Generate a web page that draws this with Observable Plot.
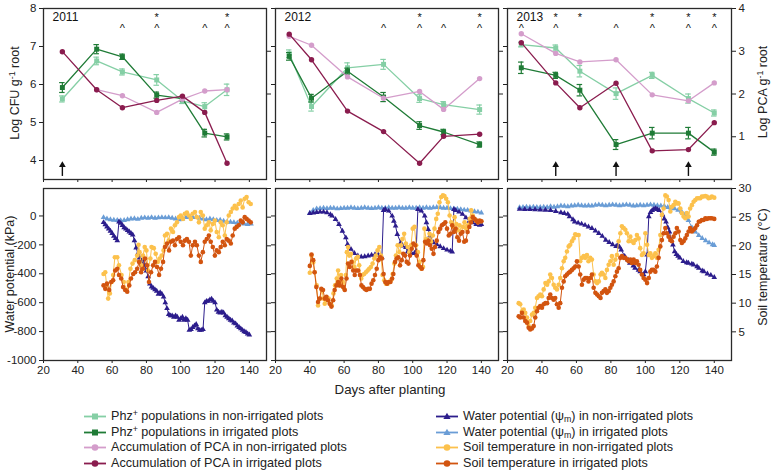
<!DOCTYPE html>
<html><head><meta charset="utf-8">
<script src="https://cdn.jsdelivr.net/npm/d3@7"></script>
<script src="https://cdn.jsdelivr.net/npm/@observablehq/plot@0.6"></script>
<style>
body{margin:0;background:#fff;font-family:"Liberation Sans",Arial,Helvetica,sans-serif;color:#222;}
#root{position:relative;width:773px;height:472px;overflow:hidden;background:#fff;}
.vt{position:absolute;transform:translate(-50%,-50%) rotate(-90deg);white-space:nowrap;font-size:12.5px;color:#222;}
.ht{position:absolute;transform:translate(-50%,-50%);white-space:nowrap;font-size:13.3px;color:#222;}
.lg{position:absolute;height:16px;display:flex;align-items:center;font-size:12.6px;color:#222;white-space:nowrap;transform:translateY(-50%);}
.lg svg{margin-right:5px;}
sup{font-size:70%;vertical-align:0.45em;line-height:0;}
sub{font-size:70%;vertical-align:-0.25em;line-height:0;}
</style></head><body><div id="root"></div>
<script>
// ---------- Top row: Phz+ populations (Log CFU) and PCA (Log PCA) ----------
const days2011 = [31, 51, 66, 86, 101, 114, 127];
const phzNon2011 = [5.62, 6.62, 6.33, 6.12, 5.57, 5.42, 5.86];
const phzNonErr2011 = [0.08, 0.1, 0.08, 0.14, 0.07, 0.1, 0.15];
const phzIrr2011 = [5.92, 6.93, 6.73, 5.72, 5.63, 4.72, 4.62];
const phzIrrErr2011 = [0.13, 0.12, 0.07, 0.08, 0.06, 0.1, 0.08];
const pcaNon2011 = [null, 2.10, 1.96, 1.57, 1.88, 2.07, 2.10];
const pcaIrr2011 = [2.99, 2.10, 1.68, 1.85, 1.95, 1.57, 0.38];
const carets2011 = [66, 86, 114, 127];
const stars2011 = [86, 127];
const arrows2011 = [31];

const days2012 = [28, 41, 62, 83, 104, 118, 139];
const phzNon2012 = [6.81, 5.42, 6.44, 6.53, 5.63, 5.47, 5.34];
const phzNonErr2012 = [0.1, 0.12, 0.13, 0.13, 0.1, 0.08, 0.12];
const phzIrr2012 = [6.74, 5.64, 6.35, 5.67, 4.92, 4.75, 4.42];
const phzIrrErr2012 = [0.1, 0.1, 0.08, 0.12, 0.1, 0.07, 0.07];
const pcaNon2012 = [3.35, 3.14, 2.40, 1.90, 2.06, 1.64, 2.36];
const pcaIrr2012 = [3.40, 2.80, 1.60, 1.12, 0.38, 1.01, 1.06];
const carets2012 = [83, 104, 118, 139];
const stars2012 = [104, 139];
const arrows2012 = [];

const days2013 = [28, 48, 62, 83, 104, 125, 140];
const phzNon2013 = [7.05, 6.96, 6.35, 5.76, 6.24, 5.63, 5.25];
const phzNonErr2013 = [0.06, 0.08, 0.15, 0.15, 0.08, 0.12, 0.08];
const phzIrr2013 = [6.44, 6.24, 5.85, 4.42, 4.72, 4.72, 4.22];
const phzIrrErr2013 = [0.15, 0.08, 0.15, 0.13, 0.15, 0.15, 0.08];
const pcaNon2013 = [3.41, 2.95, 2.75, 2.80, 1.98, 1.84, 2.26];
const pcaIrr2013 = [3.20, 2.26, 1.68, 2.25, 0.67, 0.70, 1.33];
const carets2013 = [28, 48, 83, 104, 125, 140];
const stars2013 = [48, 62, 104, 125, 140];
const arrows2013 = [48, 83, 125];

// ---------- Bottom row: water potential (kPa) and soil temperature (°C), [day, value] ----------
const wpNon2011 = [[55,-45],[56,-60],[57,-75],[58,-90],[59,-105],[60,-120],[61,-140],[62,-155],[63,-170],[64,-40],[65,-50],[66,-65],[67,-80],[68,-90],[69,-100],[70,-110],[71,-120],[72,-130],[73,-170],[74,-220],[75,-260],[76,-290],[77,-320],[78,-300],[79,-340],[80,-380],[81,-420],[82,-470],[83,-490],[84,-500],[85,-510],[86,-520],[87,-540],[88,-530],[89,-540],[90,-560],[91,-600],[92,-640],[93,-680],[94,-690],[95,-690],[96,-700],[97,-690],[98,-700],[99,-720],[100,-710],[101,-700],[102,-720],[103,-710],[104,-720],[105,-790],[106,-785],[107,-770],[108,-760],[109,-750],[110,-780],[111,-790],[112,-790],[113,-785],[114,-600],[115,-590],[116,-590],[117,-580],[118,-575],[119,-590],[120,-600],[121,-650],[122,-665],[123,-670],[124,-665],[125,-670],[126,-690],[127,-700],[128,-710],[129,-720],[130,-725],[131,-740],[132,-745],[133,-760],[134,-770],[135,-780],[136,-790],[137,-800],[138,-805],[139,-815],[140,-822]];
const wpIrr2011 = [[55,-10],[57,-20],[59,-25],[61,-28],[63,-30],[65,-32],[67,-30],[69,-25],[71,-20],[73,-18],[75,-22],[77,-15],[79,-12],[81,-15],[83,-10],[85,-15],[87,-12],[89,-10],[91,-12],[93,-10],[95,-15],[97,-20],[99,-25],[101,-20],[103,-10],[105,-8],[107,-10],[109,-8],[111,-15],[113,-20],[115,-25],[117,-20],[119,-25],[121,-30],[123,-28],[125,-35],[127,-40],[129,-42],[131,-45],[133,-48],[135,-50],[137,-55],[139,-58],[141,-55]];
const tNon2011 = [[55,15.1],[56,15.4],[56.8,13.1],[57.7,10.8],[58.7,11.7],[59.7,13.7],[60.6,14.9],[61.6,18.0],[63,18.0],[64,16.6],[65.5,14.9],[66.8,13.7],[68.4,12.3],[69.5,13.7],[70.7,16.0],[71.9,16.9],[73.2,17.5],[74.6,18.3],[75.4,20.2],[76,18.9],[77,16.6],[78,18.3],[79,19.8],[80,19.2],[81,15.7],[82.3,17.8],[83,19.8],[84.3,19.6],[85.4,18.6],[86.6,17.2],[87.7,17.8],[88.9,18.3],[90,19.2],[90.8,21.8],[92,22.1],[93,20.9],[94.3,23.0],[95.5,22.4],[96.6,23.6],[97.8,24.1],[99,25.0],[100,25.3],[101.3,24.7],[102.4,25.6],[103.6,25.8],[104.8,25.3],[105.9,24.7],[107,25.6],[108.3,25.9],[109.4,25.0],[110.6,24.1],[111.7,25.9],[112.9,25.3],[114,23.0],[115.2,23.6],[116.4,24.1],[117.5,22.7],[118.7,23.8],[119.9,24.4],[121,22.4],[122.2,21.5],[123.3,24.1],[124.5,23.6],[125.7,21.8],[126.8,24.1],[128,25.3],[129.2,25.9],[130.3,26.5],[131.5,27.0],[132.6,26.5],[133.8,27.3],[135,27.9],[136.1,26.7],[137.3,28.2],[138.4,28.5],[139.6,27.6],[140.8,27.3]];
const tIrr2011 = [[55,13.1],[56,12.5],[57,13.4],[58.3,12.3],[59.5,13.7],[60.6,14.0],[61.8,15.7],[63,16.0],[64,14.9],[65.3,14.3],[66.4,12.8],[67.6,12.3],[68.8,12.0],[70,13.1],[71,14.3],[72.3,15.1],[73.4,15.4],[74.6,16.0],[75.7,17.2],[76.9,15.4],[78,16.0],[79.2,17.8],[80.4,16.6],[81.5,13.7],[82.7,15.4],[83.9,16.6],[85,17.2],[86.2,16.3],[87.4,14.9],[88.5,16.0],[89.7,17.2],[90.8,19.8],[92,20.4],[93.2,19.2],[94.3,20.7],[95.5,20.9],[96.6,20.1],[97.8,21.2],[99,21.5],[100,20.7],[101.3,20.1],[102.4,20.9],[103.6,21.2],[104.8,20.7],[105.9,18.3],[107,20.1],[108.3,20.7],[109.4,20.1],[110.6,18.3],[111.7,17.2],[112.9,18.9],[114,20.7],[115.2,21.2],[116.4,21.8],[117.5,20.7],[118.7,19.8],[119.9,18.3],[121,19.2],[122.2,18.9],[123.3,19.8],[124.5,20.7],[125.7,20.1],[126.8,21.2],[128,20.9],[129.2,20.4],[130.3,21.8],[131.5,23.0],[132.6,23.3],[133.8,23.6],[135,24.4],[136.1,24.1],[137.3,25.0],[138.4,24.7],[139.6,24.4],[140.8,24.1]];

const wpNon2012 = [[40,18],[42,22],[44,25],[46,28],[48,28],[50,23],[52,10],[53,0],[55,-23],[57,-58],[59,-104],[61,-150],[62,-196],[64,-230],[66,-258],[68,-276],[70,-283],[72,-281],[74,-276],[76,-271],[78,-267],[80,-269],[82,-288],[83,39],[84,46],[86,35],[88,0],[89,-35],[90,-69],[91,-127],[93,-184],[94,-207],[96,-218],[97,-248],[99,-253],[101,-258],[102,-242],[103,46],[105,35],[107,0],[108,-46],[109,-92],[110,-138],[112,-184],[114,-196],[116,-212],[118,-225],[120,-235],[122,-242],[123,-248],[124,46],[125,39],[127,28],[129,12],[131,-12],[133,-35],[135,-46],[137,-58],[139,-64],[140,-58]];
const wpIrr2012 = [[40,20],[42,40],[44,50],[46,52],[48,55],[50,52],[52,55],[54,55],[56,50],[58,52],[60,55],[62,55],[64,58],[66,55],[68,52],[70,55],[72,58],[74,55],[76,52],[78,55],[80,58],[82,55],[84,55],[86,58],[88,55],[90,55],[92,58],[94,55],[96,55],[98,58],[100,55],[102,55],[104,58],[106,55],[108,58],[110,55],[112,58],[114,60],[116,58],[118,55],[120,55],[122,52],[124,50],[126,48],[128,45],[130,42],[132,40],[134,35],[136,30],[138,28],[140,22]];
const tNon2012 = [[40,15.3],[41,18.3],[42,17.1],[42.8,15.4],[44,13.1],[44.8,9.6],[46,10.8],[47,12.3],[48,10.8],[48.7,9.9],[49.7,10.5],[51,10.8],[51.8,9.9],[52.8,9.6],[53.8,11.7],[54.7,13.1],[55.7,14.3],[56.5,15.7],[57.3,13.1],[58.2,14.9],[59.2,13.7],[60,12.5],[61,14.9],[61.6,18.9],[62.3,19.8],[63,18.3],[64,18.6],[65,17.2],[66,16.3],[67,17.8],[68,18.1],[68.8,16.6],[70,14.3],[70.7,14.9],[71.7,15.1],[72.7,15.4],[73.7,15.7],[74.6,16.0],[75.6,16.3],[76.6,16.9],[77.6,17.8],[78.5,18.3],[79.5,19.2],[80.5,19.8],[81.5,18.3],[82.4,14.9],[83.4,14.0],[84.4,13.4],[85.4,13.4],[86.3,13.7],[87.3,14.0],[88.3,15.1],[89.3,16.9],[90.2,18.3],[91.2,20.1],[92.2,18.9],[93.2,20.1],[94,21.2],[95,22.1],[96,20.4],[97,19.8],[98,18.9],[99,20.1],[100,23.0],[101,23.3],[102,20.1],[103,18.9],[104,17.2],[105,16.0],[106,16.3],[106.8,23.0],[107.8,21.2],[108.8,20.7],[109.8,22.1],[110.7,20.7],[111.7,21.8],[112.7,23.0],[113.7,24.7],[114.6,25.6],[115.6,27.6],[116.6,28.5],[117.6,28.8],[118.5,28.7],[119.5,28.2],[120.5,27.6],[121.5,25.3],[122.4,24.1],[123.4,23.3],[124.4,25.0],[125.4,23.8],[126.3,22.7],[127.3,23.6],[128.3,22.4],[129.3,23.3],[130.2,24.1],[131.2,23.0],[132.2,23.6],[133.2,24.7],[134.1,26.2],[135,25.3],[136,24.7],[137,24.4],[138,24.1],[139,24.3],[140,24.3]];
const tIrr2012 = [[40,16.5],[41,18.5],[42,17.5],[42.8,15.4],[43.8,12.8],[44.8,10.2],[45.8,10.8],[46.7,12.5],[47.7,12.3],[48.7,10.8],[49.7,11.1],[50.6,10.5],[51.6,9.9],[52.6,9.4],[53.6,10.5],[54.5,12.3],[55.5,13.1],[56.5,13.7],[57.5,13.1],[58.4,14.3],[59.4,12.8],[60.4,12.3],[61.4,14.3],[62.3,16.9],[63.3,16.3],[64.3,17.2],[65.3,15.7],[66.2,14.9],[67.2,15.7],[68.2,15.7],[69.2,14.9],[70.1,13.1],[71,12.8],[72,12.5],[73,12.3],[74,12.5],[75,12.5],[76,13.4],[77,14.0],[78,14.9],[79,16.0],[80,17.5],[81,18.0],[82,17.8],[83,15.1],[84,13.7],[85,13.4],[86,13.7],[87,13.7],[88,14.3],[88.7,15.1],[89.7,17.2],[90.6,17.8],[91.6,18.0],[92.6,16.6],[93.6,17.5],[94.5,18.6],[95.5,18.3],[96.5,17.2],[97.5,16.9],[98.4,18.3],[99.4,19.5],[100.4,20.4],[101.4,20.1],[102.3,18.3],[103.3,16.6],[104.3,16.3],[105.3,16.0],[106.2,17.5],[107.2,20.7],[108.2,20.4],[109.2,20.9],[110.1,20.1],[111.1,19.5],[112.1,18.6],[113,19.8],[114,20.9],[115,22.4],[116,23.0],[117,23.6],[118,23.8],[119,24.1],[120,23.0],[121,21.8],[122,22.1],[123,23.6],[124,22.4],[125,23.0],[126,21.5],[127,20.9],[128,22.1],[129,22.4],[130,20.7],[131,20.9],[132,22.4],[133,23.3],[134,24.1],[135,25.0],[136,24.7],[137,24.4],[138,24.1],[139,24.4],[140,24.3]];

const wpNon2013 = [[27,47],[30,46],[33,45],[36,44],[39,43],[42,41],[45,39],[48,32],[51,23],[53,18],[55,12],[56,-4],[58,-25],[59,-40],[61,-48],[63,-55],[65,-64],[67,-75],[69,-85],[71,-103],[73,-120],[75,-140],[77,-167],[79,-182],[81,-198],[83,-211],[84,-199],[85,-215],[86,-234],[88,-278],[90,-305],[91,-326],[93,-345],[94,-361],[96,-375],[97,-385],[99,-405],[100,-385],[101,-270],[102,-4],[103,25],[104,39],[105,48],[106,51],[107,45],[108,39],[110,8],[111,-20],[112,-40],[113,-80],[114,-110],[115,-167],[116,-200],[117,-246],[118,-265],[119,-278],[120,-290],[122,-314],[124,-322],[125,-326],[127,-332],[128,-338],[130,-350],[131,-361],[133,-380],[134,-385],[136,-400],[138,-410],[140,-425]];
const wpIrr2013 = [[27,59],[29,60],[31,62],[33,60],[35,62],[37,60],[39,60],[41,62],[43,60],[45,65],[47,62],[49,65],[51,70],[53,68],[55,65],[57,70],[59,72],[61,75],[63,72],[65,70],[67,72],[69,70],[71,75],[73,78],[75,75],[77,72],[79,75],[81,78],[83,75],[85,72],[87,75],[89,78],[91,75],[93,70],[95,72],[97,75],[99,72],[101,75],[103,78],[105,75],[107,72],[109,70],[111,68],[113,60],[115,55],[117,50],[119,40],[121,30],[123,10],[125,-30],[127,-80],[129,-110],[131,-135],[133,-155],[135,-170],[137,-185],[139,-198],[140,-203]];
const tNon2013 = [[26.5,10.0],[27.4,9.8],[28.4,8.6],[29.4,8.9],[30.3,8.3],[31.3,7.5],[32.3,6.0],[33.2,6.9],[34.2,8.0],[35.2,8.3],[36.1,9.2],[37.1,10.9],[38,11.2],[39,11.5],[40,11.2],[41,12.4],[42,13.5],[43,13.2],[43.9,13.8],[44.8,15.0],[45.8,14.4],[46.8,13.2],[47.7,12.7],[48.7,12.4],[49.7,13.2],[50.6,14.4],[51.6,16.1],[52.6,17.3],[53.5,17.9],[54.5,19.0],[55.5,19.9],[56.4,20.2],[57.4,20.8],[58.4,21.3],[59.3,22.0],[60.3,21.9],[61.3,21.9],[62.2,17.3],[63.2,17.9],[64.2,18.2],[65.1,17.9],[66.1,18.4],[67,17.3],[68,17.9],[69,17.6],[70,15.0],[71,13.8],[72,13.5],[73,13.8],[74,15.0],[74.8,15.3],[75.8,15.0],[76.8,14.4],[77.7,15.8],[78.7,16.7],[79.7,17.3],[80.6,18.2],[81.6,16.7],[82.6,17.6],[83.5,18.4],[84.5,20.8],[85.5,22.2],[86.4,23.4],[87.4,23.1],[88.4,22.8],[89.3,22.2],[90.3,20.8],[91.3,21.6],[92.2,20.8],[93.2,20.5],[94.2,21.0],[95.1,21.9],[96.1,21.3],[97,19.6],[98,18.4],[99,18.7],[100,22.2],[101,20.2],[102,18.4],[102.9,18.7],[103.8,17.9],[104.8,18.2],[105.8,18.7],[106.7,17.9],[107.7,19.3],[108.7,21.9],[109.6,25.4],[110.6,26.5],[111.6,28.8],[112.5,28.6],[113.5,28.0],[114.5,26.0],[115.4,26.8],[116.4,27.1],[117.4,27.7],[118.3,27.4],[119.3,27.4],[120.3,26.5],[121.2,25.7],[122.2,25.1],[123.2,24.8],[124.1,25.7],[125.1,25.1],[126,26.5],[127,27.1],[128,27.7],[129,28.0],[130,28.3],[131,28.3],[131.9,28.3],[132.8,28.6],[133.8,28.6],[134.8,28.7],[135.7,28.6],[136.7,28.3],[137.7,28.4],[138.6,28.6],[140,28.4]];
const tIrr2013 = [[26.5,7.7],[27.4,7.5],[28.4,8.3],[29.4,7.5],[30.3,6.9],[31.3,6.6],[32.3,5.7],[33.2,5.4],[34.2,5.6],[35.2,6.0],[36.1,7.5],[37.1,8.6],[38,9.2],[39,9.5],[40,9.2],[41,9.8],[42,10.0],[43,10.0],[43.9,10.9],[44.8,11.5],[45.8,10.9],[46.8,10.6],[47.7,10.9],[48.7,9.8],[49.7,9.2],[50.6,10.0],[51.6,12.7],[52.6,13.8],[53.5,14.7],[54.5,15.0],[55.5,15.3],[56.4,15.5],[57.4,15.8],[58.4,16.1],[59.3,16.4],[60.3,17.3],[61.3,16.4],[62.2,15.0],[63.2,13.2],[64.2,14.1],[65.1,14.4],[66.1,14.4],[67,13.8],[68,14.4],[69,15.0],[70,12.7],[71,11.8],[72,11.5],[73,11.2],[74,10.9],[74.8,11.8],[75.8,12.1],[76.8,12.4],[77.7,11.8],[78.7,12.1],[79.7,12.7],[80.6,13.2],[81.6,13.8],[82.6,14.7],[83.5,15.5],[84.5,16.1],[85.5,17.9],[86.4,18.2],[87.4,17.9],[88.4,17.9],[89.3,17.6],[90.3,17.3],[91.3,17.6],[92.2,17.0],[93.2,17.6],[94.2,17.0],[95.1,17.3],[96.1,16.7],[97,15.8],[98,15.0],[99,14.4],[100,14.1],[101,13.5],[102,14.4],[102.9,15.5],[103.8,15.8],[104.8,15.8],[105.8,15.5],[106.7,16.4],[107.7,17.9],[108.7,19.9],[109.6,21.0],[110.6,22.2],[111.6,23.1],[112.5,22.2],[113.5,21.6],[114.5,21.0],[115.4,20.8],[116.4,21.6],[117.4,22.2],[118.3,23.1],[119.3,22.5],[120.3,21.0],[121.2,20.5],[122.2,20.8],[123.2,21.3],[124.1,21.9],[125.1,22.5],[126,23.1],[127,22.5],[128,22.8],[129,23.1],[130,23.6],[131,24.2],[131.9,24.3],[132.8,24.5],[133.8,24.5],[134.8,24.8],[135.7,24.7],[136.7,24.8],[137.7,24.8],[138.6,24.8],[140,24.7]];

// ---------- Axis tick values ----------
const dayTicks = [20, 40, 60, 80, 100, 120, 140];
const cfuTicks = [4, 5, 6, 7, 8];
const pcaTicks = [1, 2, 3, 4];
const wpTicks = [0, -200, -400, -600, -800, -1000];
const tempTicks = [5, 10, 15, 20, 25, 30];

const FONT = '"Liberation Sans", Arial, Helvetica, sans-serif';
const COL = {phzNon:"#85cfa5", phzIrr:"#1f7b36", pcaNon:"#d49dcb", pcaIrr:"#8a1c4e",
             wpNon:"#2c1d8c", wpIrr:"#6a9dd6", tNon:"#fcc14c", tIrr:"#d2540f"};
const CFU_DOMAIN = [3.5, 8], WP_DOMAIN = [-1000, 190];
const pcaToCfu = p => 3.5 + p * 1.125;      // right axis 0–4 onto left axis 3.5–8
const tToWp = t => -1000 + t * (1190 / 30); // right axis 0–30 onto left axis -1000–190

const root = document.getElementById("root");
const PANELS = [{left: 0, mL: 43, mR: 4, w: 223}, {left: 271, mL: 4, mR: 4, w: 223}, {left: 503, mL: 4, mR: 42, w: 224}];
const style = {fontFamily: FONT, fontSize: "11.5px", color: "#222", background: "transparent", overflow: "visible"};
const blank = () => "";

function place(el, left, top) {
  el.style.position = "absolute"; el.style.left = left + "px"; el.style.top = top + "px";
  root.appendChild(el);
}

function topPanel(i, year, days, phzNon, phzNonErr, phzIrr, phzIrrErr, pcaNon, pcaIrr, carets, stars, arrows) {
  const P = PANELS[i];
  const nonRows = days.map((d, k) => ({day: d, v: phzNon[k], e: phzNonErr[k]}));
  const irrRows = days.map((d, k) => ({day: d, v: phzIrr[k], e: phzIrrErr[k]}));
  const pNon = days.map((d, k) => ({day: d, p: pcaNon[k]})).filter(r => r.p != null);
  const pIrr = days.map((d, k) => ({day: d, p: pcaIrr[k]})).filter(r => r.p != null);
  // one two-line label per day: asterisk on the first line, caret on the second
  const signif = Array.from(new Set([...stars, ...carets])).sort((a, b) => a - b)
    .map(d => ({day: d, label: (stars.includes(d) ? "*" : " ") + "\n" + (carets.includes(d) ? "^" : " ")}));
  const errMarks = (rows, c) => [
    Plot.ruleX(rows, {x: "day", y1: r => r.v - r.e, y2: r => r.v + r.e, stroke: c, strokeWidth: 1.2}),
    Plot.ruleY(rows, {y: r => r.v + r.e, x1: r => r.day - 1.6, x2: r => r.day + 1.6, stroke: c, strokeWidth: 1.2}),
    Plot.ruleY(rows, {y: r => r.v - r.e, x1: r => r.day - 1.6, x2: r => r.day + 1.6, stroke: c, strokeWidth: 1.2})
  ];
  const el = Plot.plot({
    width: P.mL + P.w + P.mR, height: 184, marginTop: 8, marginBottom: 5, marginLeft: P.mL, marginRight: P.mR,
    style,
    x: {domain: [20, 150]},
    y: {domain: CFU_DOMAIN},
    marks: [
      Plot.axisX({ticks: dayTicks, tickSize: 3, tickFormat: blank, label: null}),
      Plot.axisY({anchor: "left", ticks: cfuTicks, tickSize: 4, tickPadding: 3, label: null,
        tickFormat: i === 0 ? (d => String(d)) : blank}),
      Plot.axisY({anchor: "right", ticks: (i === 2 ? pcaTicks : [1, 2, 3]).map(pcaToCfu), tickSize: 4, tickPadding: 3, label: null,
        tickFormat: i === 2 ? (v => String(Math.round((v - 3.5) / 1.125))) : blank}),
      ...errMarks(nonRows, COL.phzNon),
      Plot.line(nonRows, {x: "day", y: "v", stroke: COL.phzNon, strokeWidth: 1.3}),
      Plot.dot(nonRows, {x: "day", y: "v", symbol: "square", fill: COL.phzNon, r: 2.8}),
      ...errMarks(irrRows, COL.phzIrr),
      Plot.line(irrRows, {x: "day", y: "v", stroke: COL.phzIrr, strokeWidth: 1.3}),
      Plot.dot(irrRows, {x: "day", y: "v", symbol: "square", fill: COL.phzIrr, r: 2.8}),
      Plot.line(pNon, {x: "day", y: r => pcaToCfu(r.p), stroke: COL.pcaNon, strokeWidth: 1.3}),
      Plot.dot(pNon, {x: "day", y: r => pcaToCfu(r.p), fill: COL.pcaNon, r: 2.7}),
      Plot.line(pIrr, {x: "day", y: r => pcaToCfu(r.p), stroke: COL.pcaIrr, strokeWidth: 1.3}),
      Plot.dot(pIrr, {x: "day", y: r => pcaToCfu(r.p), fill: COL.pcaIrr, r: 2.7}),
      Plot.text(signif, {x: "day", y: () => 7.88, text: "label", fontSize: 11, lineHeight: 1, lineAnchor: "top", fill: "#111"}),
      // arrows: shaft + filled head
      Plot.ruleX(arrows, {x: d => d, y1: () => 3.58, y2: () => 3.9, stroke: "#111", strokeWidth: 1.4}),
      Plot.dot(arrows, {x: d => d, y: () => 3.88, symbol: "triangle", r: 2.5, fill: "#111"}),
      Plot.text([year], {frameAnchor: "top-left", dx: 9, dy: 9, text: d => d, fontSize: 12, textAnchor: "start", lineAnchor: "middle", fill: "#111"}),
      Plot.frame({stroke: "#2a2a2a", strokeWidth: 1.3})
    ]
  });
  place(el, P.left, 0);
}

function bottomPanel(i, wpNon, wpIrr, tNon, tIrr) {
  const P = PANELS[i];
  const el = Plot.plot({
    width: P.mL + P.w + P.mR, height: 200, marginTop: 4, marginBottom: 24, marginLeft: P.mL, marginRight: P.mR,
    style,
    x: {domain: [20, 150]},
    y: {domain: WP_DOMAIN},
    marks: [
      Plot.axisX({ticks: dayTicks, tickSize: 3, tickPadding: 2, label: null, tickFormat: d => String(d)}),
      Plot.axisY({anchor: "left", ticks: wpTicks, tickSize: 4, tickPadding: 3, label: null,
        tickFormat: i === 0 ? (d => String(d)) : blank}),
      Plot.axisY({anchor: "right", ticks: tempTicks.map(tToWp), tickSize: 4, tickPadding: 3, label: null,
        tickFormat: i === 2 ? (v => String(Math.round((v + 1000) * 30 / 1190))) : blank}),
      Plot.line(wpIrr, {x: d => d[0], y: d => d[1], stroke: COL.wpIrr, strokeWidth: 1}),
      Plot.dot(wpIrr, {x: d => d[0], y: d => d[1], symbol: "triangle", fill: COL.wpIrr, r: 2.1}),
      Plot.line(wpNon, {x: d => d[0], y: d => d[1], stroke: COL.wpNon, strokeWidth: 1}),
      Plot.dot(wpNon, {x: d => d[0], y: d => d[1], symbol: "triangle", fill: COL.wpNon, r: 2.1}),
      Plot.line(tNon, {x: d => d[0], y: d => tToWp(d[1]), stroke: COL.tNon, strokeWidth: 1}),
      Plot.dot(tNon, {x: d => d[0], y: d => tToWp(d[1]), fill: COL.tNon, r: 2.3}),
      Plot.line(tIrr, {x: d => d[0], y: d => tToWp(d[1]), stroke: COL.tIrr, strokeWidth: 1}),
      Plot.dot(tIrr, {x: d => d[0], y: d => tToWp(d[1]), fill: COL.tIrr, r: 2.3}),
      Plot.frame({stroke: "#2a2a2a", strokeWidth: 1.3})
    ]
  });
  place(el, P.left, 184);
}

topPanel(0, "2011", days2011, phzNon2011, phzNonErr2011, phzIrr2011, phzIrrErr2011, pcaNon2011, pcaIrr2011, carets2011, stars2011, arrows2011);
topPanel(1, "2012", days2012, phzNon2012, phzNonErr2012, phzIrr2012, phzIrrErr2012, pcaNon2012, pcaIrr2012, carets2012, stars2012, arrows2012);
topPanel(2, "2013", days2013, phzNon2013, phzNonErr2013, phzIrr2013, phzIrrErr2013, pcaNon2013, pcaIrr2013, carets2013, stars2013, arrows2013);
bottomPanel(0, wpNon2011, wpIrr2011, tNon2011, tIrr2011);
bottomPanel(1, wpNon2012, wpIrr2012, tNon2012, tIrr2012);
bottomPanel(2, wpNon2013, wpIrr2013, tNon2013, tIrr2013);

// ---------- Titles ----------
function addDiv(cls, html, x, y) {
  const d = document.createElement("div"); d.className = cls; d.innerHTML = html;
  d.style.left = x + "px"; d.style.top = y + "px"; root.appendChild(d);
}
addDiv("vt", "Log CFU g<sup>-1</sup> root", 15, 93);
addDiv("vt", "Log PCA g<sup>-1</sup> root", 763, 92);
addDiv("vt", "Water potential (kPa)", 10, 274);
addDiv("vt", "Soil temperature (°C)", 763, 267);
addDiv("ht", "Days after planting", 390, 389);

// ---------- Legend ----------
const legendLeft = [
  ["Phz<sup>+</sup> populations in non-irrigated plots", COL.phzNon, "square"],
  ["Phz<sup>+</sup> populations in irrigated plots", COL.phzIrr, "square"],
  ["Accumulation of PCA in non-irrigated plots", COL.pcaNon, "circle"],
  ["Accumulation of PCA in irrigated plots", COL.pcaIrr, "circle"]
];
const legendRight = [
  ["Water potential (ψ<sub>m</sub>) in non-irrigated plots", COL.wpNon, "triangle"],
  ["Water potential (ψ<sub>m</sub>) in irrigated plots", COL.wpIrr, "triangle"],
  ["Soil temperature in non-irrigated plots", COL.tNon, "circle"],
  ["Soil temperature in irrigated plots", COL.tIrr, "circle"]
];
const legendRows = [416, 432, 447, 463];
function symbolSvg(color, shape) {
  let m;
  if (shape === "square") m = `<rect x="8" y="4.5" width="6" height="6" fill="${color}"/>`;
  else if (shape === "circle") m = `<circle cx="11" cy="7.5" r="3.3" fill="${color}"/>`;
  else m = `<path d="M11,3.8 L14.6,10 L7.4,10 Z" fill="${color}"/>`;
  return `<svg width="22" height="15" viewBox="0 0 22 15"><line x1="0" x2="22" y1="7.5" y2="7.5" stroke="${color}" stroke-width="1.8"/>${m}</svg>`;
}
[[legendLeft, 84], [legendRight, 436]].forEach(([items, x]) => {
  items.forEach(([label, color, shape], k) => {
    const d = document.createElement("div"); d.className = "lg";
    d.innerHTML = symbolSvg(color, shape) + `<span>${label}</span>`;
    d.style.left = x + "px"; d.style.top = legendRows[k] + "px"; root.appendChild(d);
  });
});
</script></body></html>
